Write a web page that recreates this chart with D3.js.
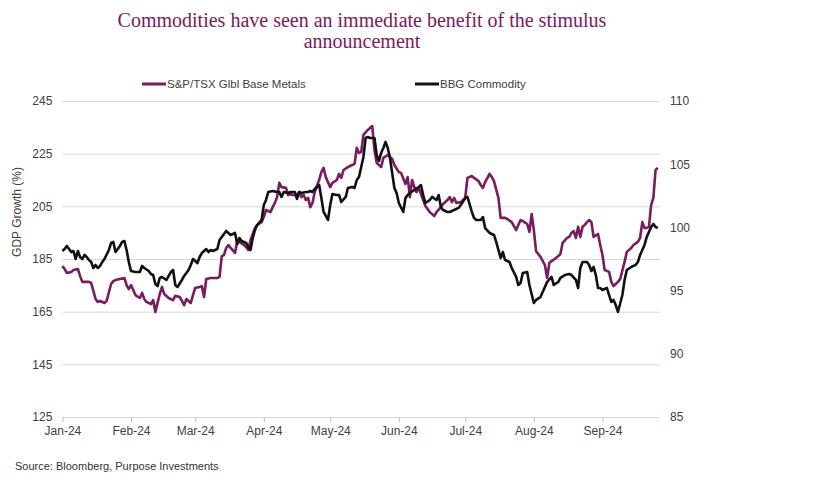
<!DOCTYPE html>
<html>
<head>
<meta charset="utf-8">
<script src="https://cdn.jsdelivr.net/npm/d3@7"></script>
<style>
  html, body { margin: 0; padding: 0; background: #ffffff; }
  svg { display: block; }
</style>
</head>
<body>
<svg id="chart" width="824" height="499"></svg>
<script>
// ---------------- DATA ----------------
const titleLines = ["Commodities have seen an immediate benefit of the stimulus", "announcement"];
const seriesNames = ["S&P/TSX Glbl Base Metals", "BBG Commodity"];
const yAxisTitle = "GDP Growth (%)";
const sourceText = "Source: Bloomberg, Purpose Investments";

const leftTicks = [125, 145, 165, 185, 205, 225, 245];
const rightTicks = [85, 90, 95, 100, 105, 110];
const monthTicks = ["2024-01-01","2024-02-01","2024-03-01","2024-04-01","2024-05-01","2024-06-01","2024-07-01","2024-08-01","2024-09-01"];
const xDomain = ["2024-01-01", "2024-09-27"];

// S&P/TSX Global Base Metals (left axis)
const metalsDates = ["01-01","01-02","01-03","01-05","01-06","01-08","01-09","01-10","01-12","01-13","01-14","01-16","01-17","01-18","01-20","01-21","01-23","01-24","01-25","01-27","01-29","01-30","01-31",
"02-01","02-02","02-03","02-05","02-06","02-07","02-08","02-10","02-11","02-12","02-14","02-15","02-16","02-18","02-20","02-21","02-23","02-24","02-25","02-26","02-28","02-29",
"03-01","03-03","03-04","03-05","03-06","03-08","03-09","03-11","03-12","03-13","03-14","03-15","03-16","03-17","03-19","03-20","03-21","03-23","03-24","03-25","03-26","03-28","03-29","03-31",
"04-01","04-02","04-04","04-05","04-06","04-07","04-08","04-09","04-11","04-12","04-13","04-14","04-16","04-17","04-18","04-19","04-20","04-21","04-22","04-23","04-24","04-26","04-27","04-28","04-29","04-30",
"05-01","05-02","05-04","05-05","05-06","05-07","05-09","05-10","05-12","05-13","05-14","05-15","05-16","05-18","05-20","05-21","05-22","05-24","05-25","05-27","05-29","05-30",
"06-01","06-02","06-04","06-05","06-06","06-07","06-08","06-09","06-10","06-12","06-13","06-15","06-17","06-18","06-20","06-21","06-23","06-24","06-25","06-26","06-27","06-29",
"07-01","07-02","07-04","07-05","07-07","07-08","07-09","07-10","07-12","07-13","07-14","07-16","07-17","07-19","07-20","07-22","07-24","07-25","07-26","07-27","07-29","07-30","07-31",
"08-01","08-02","08-03","08-04","08-06","08-07","08-08","08-09","08-11","08-12","08-13","08-14","08-16","08-17","08-18","08-19","08-20","08-21","08-22","08-23","08-24","08-25","08-26","08-27","08-28","08-30","08-31",
"09-01","09-02","09-04","09-05","09-06","09-07","09-08","09-09","09-11","09-12","09-14","09-15","09-17","09-18","09-19","09-20","09-21","09-22","09-23","09-24","09-25","09-26"];
const metalsValues = [182.3,181.2,179.7,180.1,180.8,181.2,178.5,176.3,176.3,176.3,175.9,169.8,168.7,169.1,168.3,169.1,175.5,176.6,177.0,177.4,177.8,175.1,173.6,
175.1,173.2,171.3,170.2,172.1,169.8,168.7,167.9,169.4,164.9,171.7,174.4,171.7,170.2,169.4,171.0,170.6,169.1,167.5,169.8,168.3,171.3,
174.0,174.4,174.7,170.6,177.4,177.8,177.8,177.8,178.2,186.1,186.5,189.2,190.3,189.2,187.3,191.8,191.5,190.3,189.6,188.4,192.2,196.8,197.9,199.0,
201.0,203.6,202.8,204.7,206.3,208.5,213.9,212.3,212.0,209.3,209.7,209.3,209.3,210.4,208.5,209.3,207.4,208.2,204.7,206.3,210.4,215.0,218.0,219.6,216.1,214.2,
212.3,213.9,215.0,217.3,215.8,218.8,219.9,220.3,221.1,227.2,225.3,225.6,232.1,234.0,235.5,226.4,221.5,219.9,223.4,224.5,223.0,220.7,
218.0,217.7,213.5,216.1,208.5,215.0,212.3,210.4,212.0,207.4,205.1,202.8,201.3,202.8,204.7,205.9,207.4,208.5,206.6,208.2,206.3,206.6,
208.2,215.8,216.5,215.8,214.6,213.1,212.0,214.2,217.3,216.1,214.6,208.2,200.6,200.6,200.2,199.0,196.0,197.9,199.8,199.4,198.3,195.3,202.1,
196.0,188.0,186.9,185.8,182.7,177.8,183.5,184.2,185.4,186.1,186.9,191.1,193.0,193.4,194.9,195.6,193.0,197.2,193.4,197.2,197.9,199.0,199.8,199.0,193.4,194.5,190.3,
186.5,180.8,180.1,176.3,174.7,175.5,176.3,177.4,183.9,187.7,189.2,190.3,191.5,193.0,199.0,196.8,196.8,197.2,205.5,208.2,218.8,219.6];

// BBG Commodity Index (right axis)
const bcomDates = ["01-01","01-02","01-03","01-04","01-05","01-06","01-07","01-08","01-09","01-10","01-11","01-12","01-13","01-14","01-15","01-16","01-17","01-18","01-19","01-20","01-22","01-23","01-24","01-25","01-27","01-28","01-29","01-30","01-31",
"02-01","02-03","02-05","02-06","02-07","02-09","02-10","02-11","02-12","02-13","02-14","02-15","02-17","02-19","02-20","02-21","02-22","02-24","02-25","02-27","02-28","02-29",
"03-02","03-03","03-04","03-06","03-07","03-08","03-09","03-11","03-12","03-13","03-15","03-16","03-17","03-19","03-20","03-21","03-22","03-24","03-25","03-26","03-27","03-28","03-29","03-31",
"04-01","04-02","04-03","04-05","04-07","04-08","04-09","04-10","04-12","04-13","04-15","04-16","04-17","04-18","04-20","04-21","04-22","04-23","04-24","04-26","04-27","04-28","04-30",
"05-01","05-02","05-04","05-05","05-06","05-08","05-09","05-11","05-12","05-13","05-14","05-16","05-17","05-18","05-19","05-21","05-22","05-23","05-24","05-25","05-26","05-27","05-28","05-30","05-31",
"06-01","06-03","06-04","06-05","06-06","06-08","06-10","06-11","06-12","06-13","06-15","06-16","06-18","06-19","06-20","06-21","06-23","06-24","06-26","06-28","06-29",
"07-01","07-02","07-04","07-05","07-06","07-08","07-09","07-10","07-12","07-14","07-15","07-17","07-18","07-19","07-21","07-22","07-24","07-25","07-26","07-27","07-29","07-30",
"08-01","08-02","08-04","08-05","08-07","08-09","08-10","08-12","08-13","08-15","08-17","08-18","08-20","08-21","08-22","08-23","08-25","08-26","08-27","08-28","08-29","08-30","08-31",
"09-01","09-03","09-04","09-05","09-06","09-07","09-08","09-10","09-11","09-12","09-14","09-16","09-17","09-18","09-20","09-21","09-23","09-24","09-25","09-26"];
const bcomValues = [98.13,98.29,98.53,98.29,98.05,98.13,97.50,98.13,97.66,97.50,97.82,97.66,97.42,97.26,96.79,97.03,96.79,96.95,97.26,97.50,98.21,98.77,98.85,98.05,98.53,98.85,98.92,98.21,97.26,
96.55,96.47,96.47,96.95,96.79,96.55,96.31,96.23,95.52,95.36,96.00,96.08,95.84,96.47,96.63,95.44,95.29,95.84,96.16,96.63,97.03,97.50,
97.18,97.66,97.97,98.29,98.05,98.21,98.13,98.29,99.00,99.24,99.72,99.56,99.40,99.56,98.69,99.16,98.92,98.77,98.45,98.21,99.16,99.79,100.19,100.59,
101.77,102.17,102.80,102.88,102.80,102.80,102.41,102.80,102.72,102.80,102.80,102.25,102.80,102.72,102.80,102.80,102.88,102.80,103.04,103.35,102.33,101.22,100.59,
101.77,102.64,102.56,102.56,102.01,102.41,103.12,103.20,103.12,103.75,103.99,105.57,107.07,107.15,107.07,107.07,105.73,105.25,105.89,106.28,106.76,106.28,105.49,103.12,102.72,
101.93,101.22,102.33,102.56,102.72,102.96,103.20,103.35,102.56,101.93,102.17,102.41,102.17,102.56,101.61,101.38,101.22,101.22,101.38,101.54,101.77,
102.33,102.41,101.22,100.74,100.59,100.59,100.82,99.95,99.56,99.40,98.85,97.58,98.05,97.42,97.26,96.79,96.08,95.44,95.60,96.40,96.47,95.44,
94.02,94.26,94.49,94.89,95.68,96.08,95.44,95.68,96.00,96.23,96.31,96.23,95.84,95.21,96.79,97.26,97.26,97.03,96.55,96.87,96.23,95.21,95.21,
95.05,95.21,94.65,94.10,94.26,93.86,93.31,94.65,95.84,96.63,96.87,97.03,97.26,97.82,98.61,99.24,100.03,100.27,100.03,99.95];

// ---------------- CHART ----------------
const purple = "#7b1b5c";
const textColor = "#404040";
const gridColor = "#d9d9d9";

const svg = d3.select("#chart");
const parseFull = d3.timeParse("%Y-%m-%d");
const parseMD = s => parseFull("2024-" + s);

const plot = { left: 62.4, right: 660, top: 101, bottom: 417 };

const x = d3.scaleTime().domain(xDomain.map(parseFull)).range([plot.left, plot.right]);
const yL = d3.scaleLinear().domain([125, 245]).range([plot.bottom, plot.top]);
const yR = d3.scaleLinear().domain([85, 110]).range([plot.bottom, plot.top]);

// Title
svg.append("g").selectAll("text").data(titleLines).join("text")
  .attr("x", 362).attr("y", (d, i) => 27 + i * 21)
  .attr("text-anchor", "middle")
  .style("font-family", "'Liberation Serif', 'DejaVu Serif', serif")
  .style("font-size", "20px")
  .style("fill", purple)
  .text(d => d);

// Legend
const legendItems = [
  { name: seriesNames[0], color: purple, x: 142 },
  { name: seriesNames[1], color: "#111111", x: 415 }
];
const lg = svg.append("g").selectAll("g").data(legendItems).join("g")
  .attr("transform", d => `translate(${d.x},84)`);
lg.append("line").attr("x1", 0).attr("x2", 24).attr("y1", 0).attr("y2", 0)
  .attr("stroke", d => d.color).attr("stroke-width", 3);
lg.append("text").attr("x", 25).attr("y", 0).attr("dy", "0.35em")
  .style("font-family", "'Liberation Sans', Arial, sans-serif")
  .style("font-size", "11.5px").style("fill", textColor)
  .text(d => d.name);

// Left axis with gridlines
const gL = svg.append("g").attr("transform", `translate(${plot.left},0)`)
  .call(d3.axisLeft(yL).tickValues(leftTicks).tickSize(-(plot.right - plot.left)).tickPadding(10).tickFormat(d3.format("d")));
gL.select(".domain").remove();
gL.selectAll(".tick line").attr("stroke", gridColor).attr("stroke-width", 1);
gL.selectAll(".tick text").style("font-family", "'Liberation Sans', Arial, sans-serif")
  .style("font-size", "12px").style("fill", textColor);

// Right axis
const gR = svg.append("g").attr("transform", `translate(${plot.right},0)`)
  .call(d3.axisRight(yR).tickValues(rightTicks).tickSize(0).tickPadding(10).tickFormat(d3.format("d")));
gR.select(".domain").remove();
gR.selectAll(".tick text").style("font-family", "'Liberation Sans', Arial, sans-serif")
  .style("font-size", "12px").style("fill", textColor);

// X axis
const gX = svg.append("g").attr("transform", `translate(0,${plot.bottom})`)
  .call(d3.axisBottom(x).tickValues(monthTicks.map(parseFull)).tickSize(5).tickPadding(4).tickFormat(d3.timeFormat("%b-%y")));
gX.select(".domain").remove();
gX.selectAll(".tick line").attr("stroke", "#bfbfbf");
gX.selectAll(".tick text").style("font-family", "'Liberation Sans', Arial, sans-serif")
  .style("font-size", "12px").style("fill", textColor);

// Y axis title
svg.append("text")
  .attr("transform", "translate(21,212) rotate(-90)")
  .attr("text-anchor", "middle")
  .style("font-family", "'Liberation Sans', Arial, sans-serif")
  .style("font-size", "12px").style("fill", textColor)
  .text(yAxisTitle);

// Lines
const metals = metalsDates.map((d, i) => ({ date: parseMD(d), value: metalsValues[i] }));
const bcom = bcomDates.map((d, i) => ({ date: parseMD(d), value: bcomValues[i] }));

svg.append("path").datum(metals)
  .attr("fill", "none").attr("stroke", purple).attr("stroke-width", 2.6)
  .attr("stroke-linejoin", "round")
  .attr("d", d3.line().x(d => x(d.date)).y(d => yL(d.value)));

svg.append("path").datum(bcom)
  .attr("fill", "none").attr("stroke", "#111111").attr("stroke-width", 2.6)
  .attr("stroke-linejoin", "round")
  .attr("d", d3.line().x(d => x(d.date)).y(d => yR(d.value)));

// Source
svg.append("text").attr("x", 15).attr("y", 470)
  .style("font-family", "'Liberation Sans', Arial, sans-serif")
  .style("font-size", "11px").style("fill", "#333333")
  .text(sourceText);
</script>
</body>
</html>
